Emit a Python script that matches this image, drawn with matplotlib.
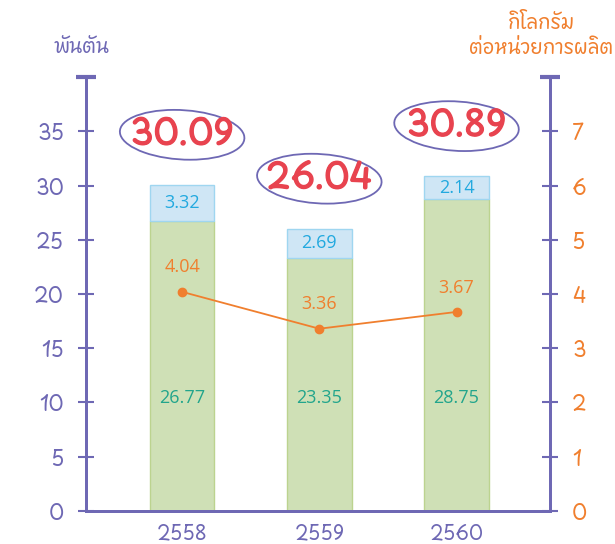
import matplotlib
matplotlib.use("Agg")
import matplotlib.pyplot as plt
import matplotlib.patheffects as pe
from matplotlib.patches import Ellipse

years = ["2558", "2559", "2560"]
base_vals = [26.77, 23.35, 28.75]   # green, thousand tons
top_vals = [3.32, 2.69, 2.14]       # light blue, thousand tons
totals = [30.09, 26.04, 30.89]
per_unit = [4.04, 3.36, 3.67]       # kg per production unit (right axis)

purple = "#6e68b4"
orange = "#f07f2e"
red = "#e8434f"
green_fill = "#cfe0b6"
green_edge = "#bcd38f"
blue_fill = "#cfe6f5"
blue_edge = "#9fd6f0"
teal = "#22a58c"
cyan = "#22a9df"

hand = ["Playpen Sans Thai", "DejaVu Sans"]
plain = ["Open Sans", "DejaVu Sans"]

fig = plt.figure(figsize=(6.15, 5.44), dpi=100)
ax = fig.add_axes([0.14, 0.061, 0.754, 0.797])
ax2 = ax.twinx()

x = list(range(len(years)))
w = 0.47
ax.bar(x, base_vals, width=w, color=green_fill, edgecolor=green_edge, linewidth=1)
ax.bar(x, top_vals, width=w, bottom=base_vals, color=blue_fill, edgecolor=blue_edge, linewidth=1)

for i in x:
    ax.text(i, 10.4, f"{base_vals[i]:.2f}", ha="center", va="center",
            color=teal, fontsize=13, family=plain)
    ax.text(i, base_vals[i] + top_vals[i] / 2, f"{top_vals[i]:.2f}", ha="center",
            va="center", color=cyan, fontsize=13, family=plain)
    ty = totals[i] + 4.6
    ax.add_patch(Ellipse((i, ty), 0.9, 4.6, angle=1.5, fill=False, edgecolor=purple,
                         linewidth=1.3, clip_on=False))
    ax.text(i, ty, f"{totals[i]:.2f}", ha="center", va="center", color=red,
            fontsize=25, family=hand,
            path_effects=[pe.withStroke(linewidth=1.0, foreground=red)])

ax2.plot(x, per_unit, color=orange, linewidth=1.3, marker="o", markersize=6)
for i in x:
    ax2.text(i, per_unit[i] + 0.45, f"{per_unit[i]:.2f}", ha="center", va="center",
             color=orange, fontsize=13, family=plain)

ax.set_xlim(-0.7, 2.68)
ax.set_ylim(0, 40)
ax2.set_ylim(0, 8)
ax.set_yticks(range(0, 40, 5))
ax2.set_yticks(range(0, 8))

for a in (ax, ax2):
    for s in a.spines.values():
        s.set_color(purple)
        s.set_linewidth(2)
    a.spines["top"].set_visible(False)

ax.tick_params(axis="y", direction="inout", length=12, width=1.5, color=purple,
               labelcolor=purple, labelsize=15, pad=10)
ax2.tick_params(axis="y", direction="inout", length=12, width=1.5, color=purple,
                labelcolor=orange, labelsize=15, pad=10)
ax.tick_params(axis="x", length=0, labelcolor=purple, labelsize=14, pad=8)
ax.set_xticks(x)
ax.set_xticklabels(years)
for lbl in ax.get_yticklabels() + ax2.get_yticklabels() + ax.get_xticklabels():
    lbl.set_family(hand)

# caps on top of both vertical axes
ax.plot([-0.7, 2.68], [40, 40], linestyle="none", marker="_", markersize=14,
        markeredgewidth=3, color=purple, clip_on=False)

fig.text(0.133, 0.912, "พันตัน", ha="center", va="center", color=purple,
         fontsize=14, family=hand)
fig.text(0.997, 0.934, "กิโลกรัม\nต่อหน่วยการผลิต", ha="right", va="center",
         multialignment="center", color=orange, fontsize=14, family=hand,
         linespacing=1.1)

fig.savefig("out.png", dpi=100)
